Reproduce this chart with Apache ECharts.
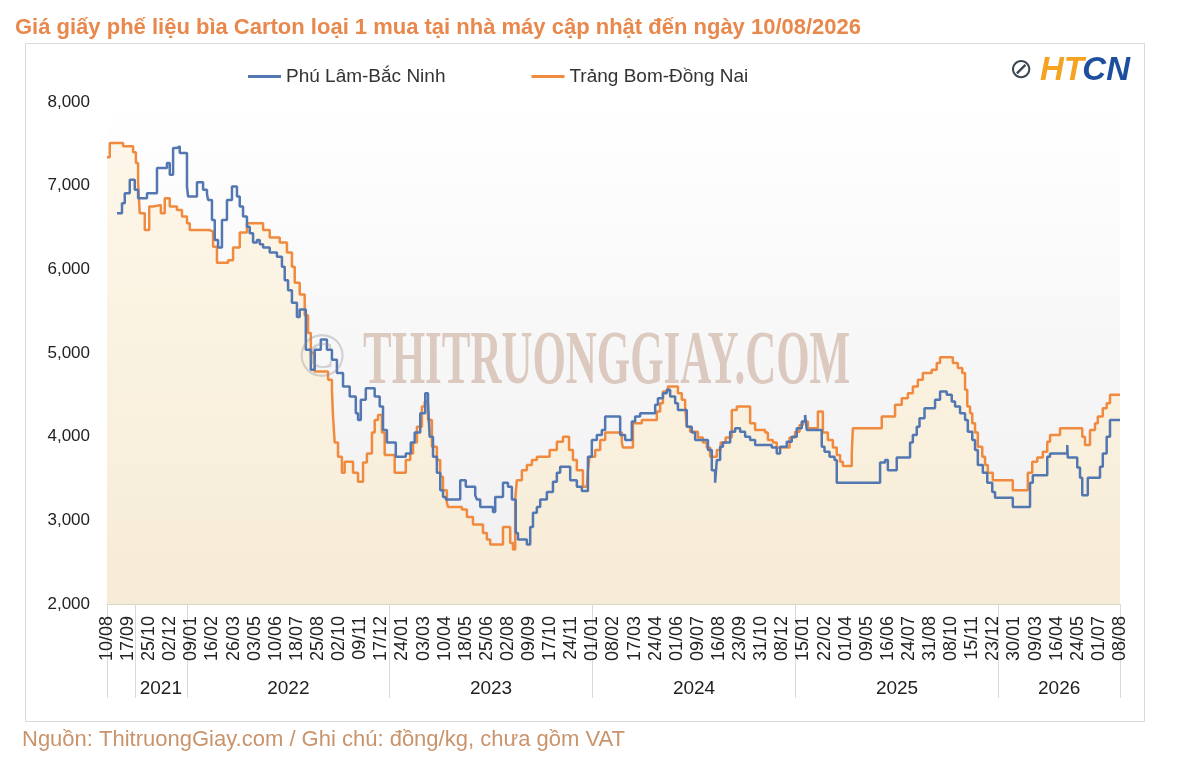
<!DOCTYPE html>
<html>
<head>
<meta charset="utf-8">
<script src="https://cdn.jsdelivr.net/npm/echarts@6/dist/echarts.min.js"></script>
<style>
  html, body { margin:0; padding:0; background:#fff; }
  #chart { width:1200px; height:760px; }
</style>
</head>
<body>
<div id="chart"></div>
<script>
// ---- Data ----
// x = days since 10/08/2021, y = price (đồng/kg); step points
const startDate = '2021-08-10';
const seriesNames = ['Phú Lâm-Bắc Ninh', 'Trảng Bom-Đồng Nai'];

const phuLamBacNinh = [
  [18,6670],[27,6790],[32,6910],[41,7070],[50,6950],[56,6850],[72,6910],[90,7210],[108,7270],[113,7130],
  [119,7450],[126,7470],[131,7390],[144,6990],[146,6870],[162,7040],[173,6950],[180,6900],[182,6830],[189,6590],
  [194,6350],[200,6260],[207,6590],[216,6830],[225,6990],[234,6870],[239,6750],[245,6630],[252,6510],[257,6430],
  [263,6320],[270,6350],[275,6300],[281,6260],[293,6200],[306,6150],[315,6030],[320,5870],[326,5750],[333,5600],
  [342,5430],[347,5520],[358,5040],[367,4800],[374,5040],[385,5160],[396,5040],[405,4920],[414,4760],[425,4600],
  [437,4480],[448,4280],[452,4200],[457,4440],[466,4580],[482,4480],[491,4360],[497,4080],[504,3930],[520,3760],
  [538,3800],[547,3930],[554,4050],[564,4280],[573,4520],[578,4400],[581,4000],[587,3760],[594,3570],[600,3360],
  [605,3280],[610,3250],[636,3480],[646,3400],[663,3300],[666,3250],[672,3160],[695,3100],[699,3280],[713,3450],
  [722,3400],[729,3250],[736,2850],[740,2770],[756,2710],[762,2920],[767,3090],[774,3160],[780,3250],[792,3340],
  [803,3460],[810,3570],[816,3640],[834,3480],[846,3400],[855,3350],[866,3760],[873,3960],[882,4020],[891,4080],
  [897,4240],[924,4020],[933,3960],[945,4180],[951,4240],[960,4280],[987,4380],[992,4460],[1001,4520],[1008,4560],
  [1014,4480],[1023,4400],[1028,4320],[1044,4120],[1053,4050],[1059,3960],[1082,3840],[1089,3600],[1095,3450],[1098,3720],
  [1104,3880],[1109,3930],[1122,4060],[1131,4100],[1140,4060],[1149,4000],[1158,3960],[1167,3900],[1197,3870],[1206,3800],
  [1212,3880],[1224,3940],[1233,4000],[1242,4100],[1251,4180],[1257,4260],[1260,4080],[1287,3880],[1292,3820],[1301,3760],
  [1310,3720],[1314,3450],[1392,3690],[1401,3720],[1406,3600],[1422,3750],[1446,3930],[1451,4020],[1458,4120],[1463,4220],
  [1472,4340],[1491,4440],[1500,4540],[1512,4500],[1521,4420],[1527,4360],[1536,4280],[1545,4200],[1550,4060],[1558,3960],
  [1563,3840],[1568,3660],[1577,3570],[1585,3450],[1594,3340],[1599,3270],[1631,3160],[1662,3450],[1667,3540],[1693,3760],
  [1698,3800],[1729,3900],[1730,3750],[1747,3630],[1752,3510],[1756,3300],[1766,3510],[1788,3640],[1793,3800],[1800,4000],
  [1806,4200],[1824,4200]
];

const trangBomDongNai = [
  [0,7340],[5,7510],[29,7470],[47,7400],[52,7270],[56,7030],[59,6670],[68,6470],[76,6750],[83,6770],
  [97,6670],[104,6850],[113,6750],[126,6710],[135,6630],[144,6550],[149,6470],[185,6450],[191,6270],[198,6080],
  [218,6110],[227,6260],[239,6440],[252,6550],[281,6470],[293,6380],[311,6320],[324,6200],[333,6030],[338,5840],
  [347,5700],[356,5450],[362,5240],[367,5000],[374,4780],[398,4680],[405,4560],[407,4240],[410,3930],[416,3760],
  [423,3570],[428,3700],[443,3570],[452,3460],[461,3690],[468,3800],[477,4050],[482,4200],[488,4260],[495,4050],
  [500,3780],[518,3570],[538,3720],[546,3800],[551,3930],[558,4120],[567,4360],[572,4420],[578,4200],[585,3880],
  [594,3720],[600,3520],[605,3360],[612,3210],[614,3160],[639,3130],[648,3040],[659,2950],[677,2850],[684,2770],
  [690,2710],[713,2920],[726,2730],[731,2650],[735,3250],[738,3480],[747,3600],[756,3660],[765,3720],[774,3760],
  [797,3840],[810,3940],[821,4000],[832,3840],[839,3720],[846,3600],[857,3400],[864,3390],[866,3600],[869,3760],
  [879,3840],[888,3960],[897,4050],[927,3930],[929,3870],[947,4160],[963,4200],[990,4300],[996,4400],[1001,4540],
  [1010,4600],[1028,4520],[1035,4440],[1041,4360],[1044,4120],[1050,4060],[1064,3990],[1073,3930],[1080,3870],[1086,3760],
  [1098,3840],[1105,3930],[1114,3990],[1125,4320],[1134,4360],[1158,4160],[1167,4080],[1185,4050],[1190,3960],[1199,3930],
  [1206,3870],[1229,3990],[1239,4060],[1247,4140],[1253,4180],[1262,4100],[1280,4300],[1289,4050],[1298,3960],[1307,3870],
  [1314,3780],[1320,3700],[1325,3650],[1341,3800],[1343,4100],[1395,4240],[1419,4380],[1431,4460],[1442,4520],[1451,4600],
  [1460,4680],[1469,4760],[1485,4800],[1494,4880],[1500,4950],[1523,4880],[1532,4820],[1540,4760],[1545,4560],[1549,4360],
  [1554,4280],[1558,4160],[1563,4050],[1568,3880],[1576,3760],[1581,3660],[1586,3570],[1595,3480],[1631,3360],[1658,3570],
  [1666,3700],[1675,3750],[1685,3820],[1693,3940],[1698,4020],[1716,4100],[1756,4000],[1761,3900],[1770,4080],[1779,4160],
  [1784,4240],[1793,4340],[1800,4400],[1806,4500],[1824,4500]
];

// axis: last day index, label step (days), year group boundaries (days) and year label positions
const totalDays = 1824;
const labelStepDays = 38;
const yearBoundaries = [0, 50, 144, 509, 874, 1240, 1605, 1824];
const yearLabelDays = [97, 326.5, 691.5, 1057, 1422.5, 1714.5];
const yTicks = { min: 2000, max: 8000, interval: 1000 };

const titleText = 'Giá giấy phế liệu bìa Carton loại 1 mua tại nhà máy cập nhật đến ngày 10/08/2026';
const footerText = 'Nguồn: ThitruongGiay.com / Ghi chú: đồng/kg, chưa gồm VAT';

// ---- Helpers ----
const p = startDate.split('-').map(Number);
const startUTC = Date.UTC(p[0], p[1] - 1, p[2]);
function dayToDate(d) { return new Date(startUTC + Math.round(d) * 86400000); }
function pad(n) { return (n < 10 ? '0' : '') + n; }

const FONT = '"Liberation Sans", Arial, sans-serif';
const chart = echarts.init(document.getElementById('chart'));

chart.setOption({
  backgroundColor: '#ffffff',
  animation: false,
  title: {
    text: titleText,
    left: 10, top: 12,
    textStyle: { fontFamily: FONT, fontSize: 22, fontWeight: 'bold', color: '#E8884C' }
  },
  legend: {
    data: seriesNames,
    left: 243, top: 62,
    icon: 'rect', itemWidth: 33, itemHeight: 3, itemGap: 86,
    textStyle: { fontFamily: FONT, fontSize: 19, color: '#333' }
  },
  grid: {
    left: 107, right: 80, top: 102, bottom: 156,
    show: true, borderWidth: 0,
    backgroundColor: new echarts.graphic.LinearGradient(0, 0, 0, 1, [
      { offset: 0, color: '#ffffff' }, { offset: 1, color: '#efeff1' }
    ])
  },
  xAxis: [
    {
      type: 'value', min: 0, max: totalDays, interval: labelStepDays,
      axisLine: { show: true, lineStyle: { color: '#DDD5C4', width: 1 } },
      axisTick: { show: false },
      splitLine: { show: false },
      axisLabel: {
        rotate: 90, margin: 12, fontFamily: FONT, fontSize: 18, color: '#222',
        showMinLabel: true, showMaxLabel: true,
        formatter: v => { const d = dayToDate(v); return pad(d.getUTCDate()) + '/' + pad(d.getUTCMonth() + 1); }
      }
    },
    {
      type: 'value', min: 0, max: totalDays, position: 'bottom',
      axisLine: { show: false },
      splitLine: { show: false },
      axisTick: { show: true, customValues: yearBoundaries, length: 94, lineStyle: { color: '#D9D9D9', width: 1 } },
      axisLabel: {
        customValues: yearLabelDays, margin: 75, fontFamily: FONT, fontSize: 19, color: '#222',
        formatter: v => String(dayToDate(v).getUTCFullYear())
      }
    }
  ],
  yAxis: {
    type: 'value', min: yTicks.min, max: yTicks.max, interval: yTicks.interval,
    axisLine: { show: false }, axisTick: { show: false }, splitLine: { show: false },
    axisLabel: { margin: 17, fontFamily: FONT, fontSize: 17, color: '#222',
      formatter: v => v.toLocaleString('en-US') }
  },
  series: [
    {
      name: seriesNames[0], type: 'line', step: 'end', showSymbol: false, z: 4,
      data: phuLamBacNinh,
      itemStyle: { color: '#5377B0' },
      lineStyle: { color: '#5377B0', width: 2.5 }
    },
    {
      name: seriesNames[1], type: 'line', step: 'end', showSymbol: false, z: 3,
      data: trangBomDongNai,
      itemStyle: { color: '#F08A3E' },
      lineStyle: { color: '#F08A3E', width: 2.5 },
      areaStyle: {
        origin: 'start',
        color: new echarts.graphic.LinearGradient(0, 0, 0, 1, [
          { offset: 0, color: '#FDF4E0' }, { offset: 1, color: '#F9EACB' }
        ])
      }
    }
  ],
  graphic: [
    { type: 'rect', silent: true, z: 0,
      shape: { x: 25.5, y: 43.5, width: 1119, height: 678 },
      style: { fill: 'none', stroke: '#D9D9D9', lineWidth: 1 } },
    { type: 'text', silent: true, z: 10, x: 322, y: 359,
      style: { text: '©', font: '64px "Liberation Serif"', align: 'center', verticalAlign: 'middle', fill: 'rgba(140,140,150,0.35)' } },
    { type: 'text', silent: true, z: 10, x: 363, y: 363, scaleX: 0.565,
      style: { text: 'THITRUONGGIAY.COM', font: 'bold 76px "Liberation Serif"', verticalAlign: 'middle', fill: 'rgba(175,130,100,0.38)' } },
    { type: 'text', silent: true, z: 10, x: 1021, y: 71,
      style: { text: '⊘', font: '28px "DejaVu Sans"', align: 'center', verticalAlign: 'middle', fill: '#3B4654' } },
    { type: 'text', silent: true, z: 10, x: 1040, y: 71,
      style: { text: 'HT', font: 'italic bold 33px "Liberation Sans"', verticalAlign: 'middle', fill: '#F4A422' } },
    { type: 'text', silent: true, z: 10, x: 1130, y: 71,
      style: { text: 'CN', font: 'italic bold 33px "Liberation Sans"', align: 'right', verticalAlign: 'middle', fill: '#1E4F9E' } },
    { type: 'text', silent: true, z: 10, x: 22, y: 740,
      style: { text: footerText, font: '22px "Liberation Sans"', verticalAlign: 'middle', fill: '#C9946C' } }
  ]
});
</script>
</body>
</html>
